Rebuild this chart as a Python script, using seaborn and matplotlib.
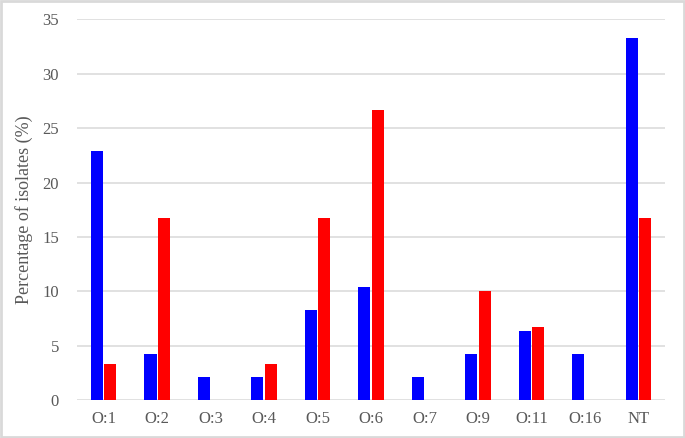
import pandas as pd
import seaborn as sns
import matplotlib.pyplot as plt
from matplotlib.patches import Rectangle

# values
serotypes = ["O:1", "O:2", "O:3", "O:4", "O:5", "O:6", "O:7", "O:9", "O:11", "O:16", "NT"]
blue_pct = [22.9, 4.2, 2.1, 2.1, 8.3, 10.4, 2.1, 4.2, 6.3, 4.2, 33.3]
red_pct = [3.3, 16.7, 0.0, 3.3, 16.7, 26.7, 0.0, 10.0, 6.7, 0.0, 16.7]
series_names = ["Series 1", "Series 2"]
y_ticks = [0, 5, 10, 15, 20, 25, 30, 35]

df = pd.DataFrame({
    "serotype": serotypes * 2,
    "series": [series_names[0]] * len(serotypes) + [series_names[1]] * len(serotypes),
    "pct": blue_pct + red_pct,
})

sns.set_style("white")
plt.rcParams["font.family"] = ["Liberation Serif", "DejaVu Serif"]
text_color = "#595959"
grid_color = "#d9d9d9"

fig = plt.figure(figsize=(6.85, 4.38), dpi=100)
ax = fig.add_axes([0.1124, 0.0868, 0.8584, 0.8687])

sns.barplot(
    data=df,
    x="serotype",
    y="pct",
    hue="series",
    order=serotypes,
    hue_order=series_names,
    palette=["#0000ff", "#ff0000"],
    saturation=1,
    width=0.5,
    gap=0.1,
    linewidth=0,
    legend=False,
    ax=ax,
    zorder=3,
)

ax.set_ylim(0, 35)
ax.set_xlim(-0.5, len(serotypes) - 0.5)
ax.set_yticks(y_ticks)
ax.yaxis.grid(True, color=grid_color, linewidth=1.1, zorder=0)
ax.xaxis.grid(False)
ax.set_axisbelow(True)
for side in ["top", "right", "left", "bottom"]:
    ax.spines[side].set_visible(False)

ax.tick_params(axis="y", length=0, pad=13, labelsize=12, labelcolor=text_color)
ax.tick_params(axis="x", length=0, pad=8, labelsize=12, labelcolor=text_color)
ax.set_xlabel("")
ax.set_ylabel("Percentage of isolates (%)", fontsize=13, color=text_color)
ax.yaxis.set_label_coords(-0.074, 0.5)

# light frame around the whole figure
fig.patches.append(Rectangle((0.002, 0.003), 0.996, 0.994, transform=fig.transFigure,
                             fill=False, edgecolor=grid_color, linewidth=2))

fig.savefig("out.png", dpi=100)
